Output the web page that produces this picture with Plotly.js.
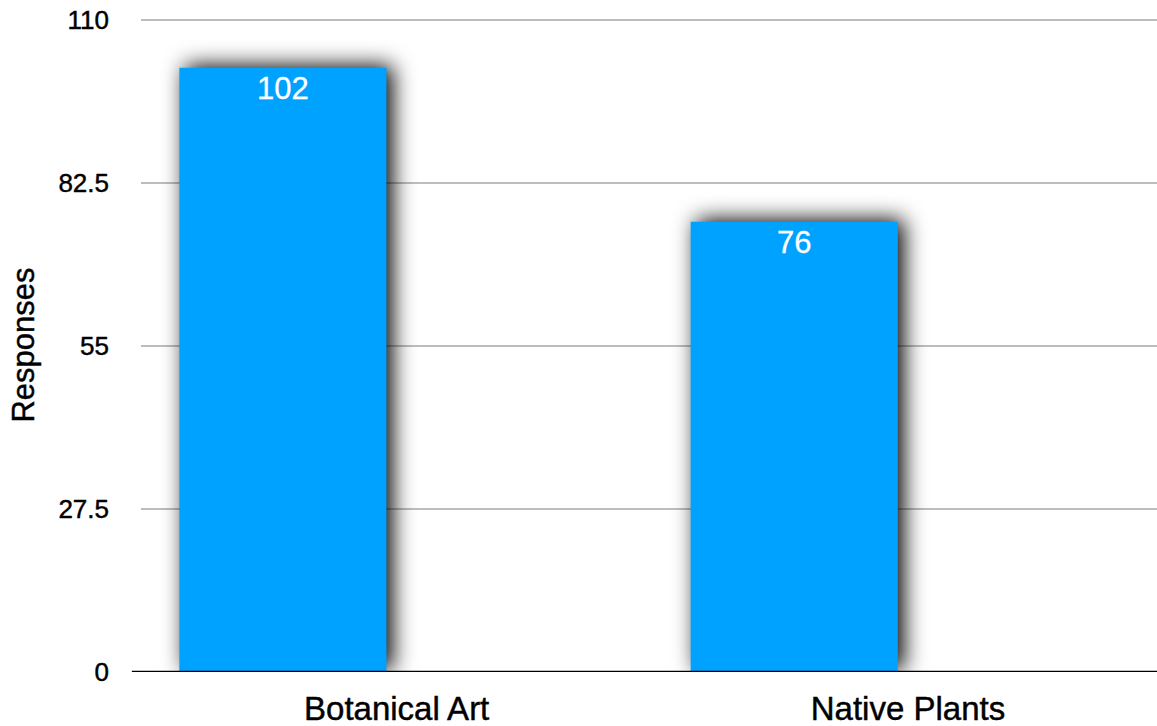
<!DOCTYPE html>
<html>
<head>
<meta charset="utf-8">
<script src="https://cdn.plot.ly/plotly-3.0.1.min.js"></script>
<style>
  html, body { margin: 0; padding: 0; background: #fff; }
  #chart { width: 1157px; height: 726px; }
  .barlayer .point path { filter: drop-shadow(6px -2px 11px rgba(0,0,0,1)); }
  .xtick text, .ytick text, .ytitle { stroke: #000; stroke-width: 0.45px; }
  .bartext { stroke: #fff; stroke-width: 0.3px; }
</style>
</head>
<body>
<div id="chart"></div>
<script>
const categories = ["Botanical Art", "Native Plants"];
const responses = [102, 76];
const yTickVals = [0, 27.5, 55, 82.5, 110];
const yTickText = ["0", "27.5", "55", "82.5", "110"];

const FONT = '"Liberation Sans", Arial, Helvetica, sans-serif';

const trace = {
  type: 'bar',
  x: categories,
  y: responses,
  text: responses.map(String),
  textposition: 'inside',
  insidetextanchor: 'end',
  textangle: 0,
  textfont: { family: FONT, size: 31, color: '#ffffff' },
  marker: { color: '#00A2FF', line: { width: 0 } },
  width: 0.405,
  offset: -0.425,
  hoverinfo: 'none',
  cliponaxis: false
};

const layout = {
  width: 1157,
  height: 726,
  margin: { l: 141, r: 0, t: 18, b: 54 },
  paper_bgcolor: '#ffffff',
  plot_bgcolor: '#ffffff',
  showlegend: false,
  font: { family: FONT, color: '#000000' },
  xaxis: {
    type: 'category',
    range: [-0.5, 1.487],
    showgrid: false,
    zeroline: false,
    showline: false,
    ticks: '',
    tickfont: { family: FONT, size: 33, color: '#000000' },
    ticklabelstandoff: 14,
    fixedrange: true
  },
  yaxis: {
    range: [0, 110.4],
    tickvals: yTickVals,
    ticktext: yTickText,
    showgrid: true,
    gridcolor: '#bdbdbd',
    gridwidth: 2,
    zeroline: false,
    showline: false,
    ticks: '',
    ticklabelstandoff: 31,
    tickfont: { family: FONT, size: 26, color: '#000000' },
    title: { text: 'Responses', font: { family: FONT, size: 31, color: '#000000' }, standoff: 14 },
    fixedrange: true
  },
  shapes: [
    { type: 'line', xref: 'paper', yref: 'y', x0: -0.009, x1: 1, y0: 0, y1: 0,
      line: { color: '#000000', width: 2.5 }, layer: 'above' }
  ]
};

Plotly.newPlot('chart', [trace], layout, { displayModeBar: false, staticPlot: true });
</script>
</body>
</html>
